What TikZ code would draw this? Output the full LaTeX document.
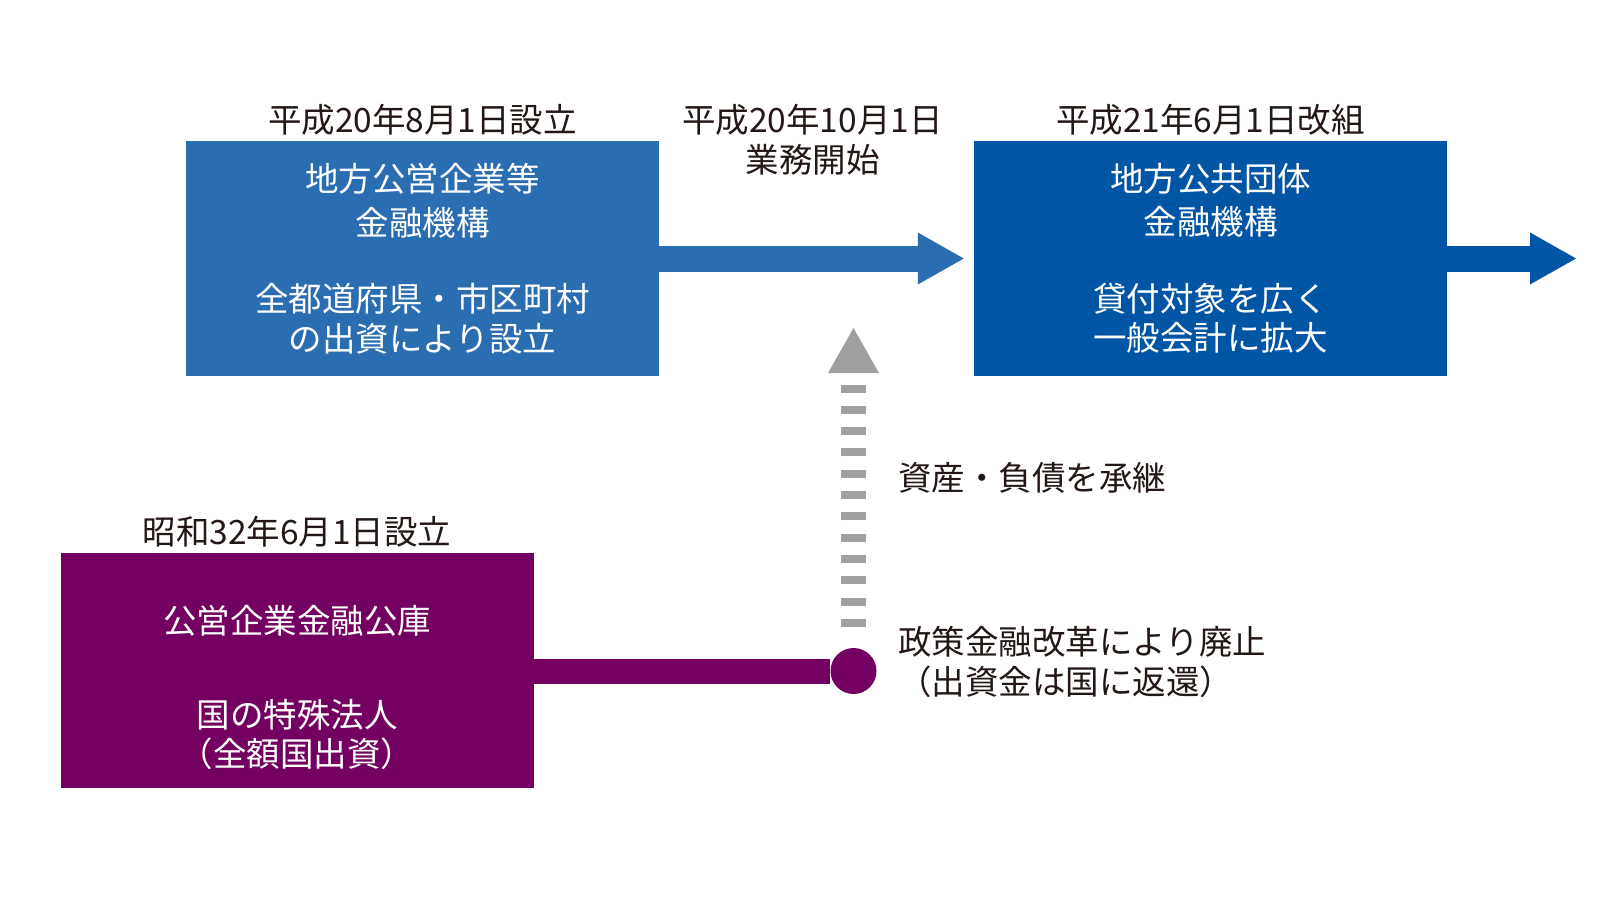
\documentclass[tikz,border=0pt]{standalone}
\usepackage{fontspec}
\setmainfont{Noto Sans CJK JP}
\usetikzlibrary{arrows.meta,positioning}
\definecolor{kikoublue}{RGB}{42,109,177}
\definecolor{kaisoblue}{RGB}{0,85,165}
\definecolor{kokopurple}{RGB}{116,0,97}
\definecolor{shokeigray}{RGB}{160,160,160}
\definecolor{sumi}{RGB}{35,24,21}
\tikzset{
  kikou/.style={
    shape = rectangle,
    inner sep = 0pt,
    minimum width = 473pt,
    minimum height = 235pt,
    fill = #1,
    text = white,
    align = center,
    font = \fontsize{33.5pt}{41pt}\selectfont
  },
  boxtext/.style={
    inner sep = 0pt,
    text = white,
    align = center,
    font = \fontsize{33.5pt}{39pt}\selectfont
  },
  note/.style={
    inner sep = 0pt,
    text = sumi,
    align = left,
    anchor = west,
    font = \fontsize{33.5pt}{40pt}\selectfont
  },
  fatarrow/.style={
    draw = #1,
    line width = 26pt,
    -{Triangle[length=46pt,width=52pt,line width=0pt]}
  },
  shokei/.style={
    draw = shokeigray,
    line width = 25pt,
    dash pattern = on 8pt off 13.3pt,
    -{Triangle[length=45pt,width=51pt,line width=0pt]}
  },
  dot/.style={
    shape = circle,
    inner sep = 0pt,
    minimum size = 46pt,
    fill = kokopurple
  },
}
\tikzset{
  every label/.style = {
    text = sumi,
    inner sep = 5pt,
    font = \fontsize{33.5pt}{40pt}\selectfont
  },
}
\begin{document}
\begin{tikzpicture}[x=1pt,y=-1pt]
  \useasboundingbox (0,0) rectangle (1624,921);
  \node[kikou=kikoublue, label=above:平成20年8月1日設立] (kikou1) at (422.5,258.5)
    {地方公営企業等\\[2.5pt]金融機構\\[35.5pt]全都道府県・市区町村\\[-1.5pt]の出資により設立};
  \node[kikou=kaisoblue, label=above:平成21年6月1日改組] (kikou2) at (1210.5,258.5)
    {地方公共団体\\[2.5pt]金融機構\\[35.5pt]貸付対象を広く\\[-1.5pt]一般会計に拡大};
  \node[kikou=kokopurple, label=above:昭和32年6月1日設立] (koko) at (297,670) {};
  \node[boxtext] (koko-text) at (koko |- 0,687) {公営企業金融公庫\\[55pt]国の特殊法人\\（全額国出資）};
  \node[note, anchor=center, align=center] (kaishi) at (812.5,140) {平成20年10月1日\\業務開始};
  \coordinate (kaiso-end) at (1576,258.5);
  \coordinate (shokei-tip) at (853.5,328);
  \draw[fatarrow=kikoublue, shorten >=10pt] (kikou1.east) -- (kikou2.west);
  \draw[fatarrow=kaisoblue] (kikou2.east) -- (kaiso-end);
  \node[dot] (haishi) at (853.5,671) {};
  \draw[kokopurple, line width=25pt] (koko.east |- haishi) -- (haishi);
  \draw[shokei, shorten <=21pt] (haishi.north) -- (shokei-tip);
  \node[note] (shokei-text) at (898,478) {資産・負債を承継};
  \node[note] (haishi-text) at (898,662) {政策金融改革により廃止\\（出資金は国に返還）};
\end{tikzpicture}
\end{document}
